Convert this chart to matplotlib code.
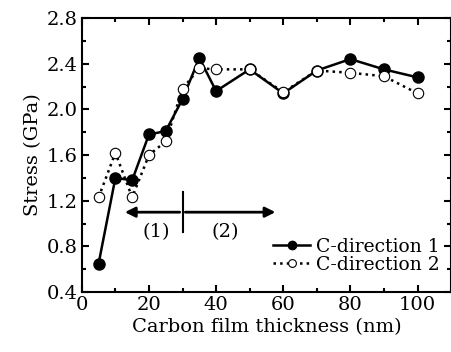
import matplotlib
matplotlib.use("Agg")
import matplotlib.pyplot as plt
from matplotlib.ticker import MultipleLocator

# thickness (nm)
thickness = [5, 10, 15, 20, 25, 30, 35, 40, 50, 60, 70, 80, 90, 100]
# stress (GPa)
stress_c1 = [0.65, 1.40, 1.38, 1.78, 1.81, 2.09, 2.45, 2.16, 2.35, 2.14, 2.34, 2.44, 2.35, 2.28]
stress_c2 = [1.23, 1.62, 1.23, 1.60, 1.72, 2.18, 2.36, 2.35, 2.35, 2.15, 2.34, 2.32, 2.29, 2.14]

plt.rcParams['font.family'] = ['DejaVu Serif']
plt.rcParams['mathtext.fontset'] = 'dejavuserif'

fig = plt.figure(figsize=(4.52, 3.52), dpi=100)
ax = fig.add_axes([0.181, 0.170, 0.817, 0.779])

ax.plot(thickness, stress_c1, '-', color='black', lw=1.8, marker='o', ms=8,
        mfc='black', mec='black', label='C-direction 1', zorder=3)
ax.plot(thickness, stress_c2, ':', color='black', lw=1.8, marker='o', ms=7.5,
        mfc='white', mec='black', mew=0.8, label='C-direction 2', zorder=4)

# region arrow
ax.annotate('', xy=(12, 1.10), xytext=(30, 1.10),
            arrowprops=dict(arrowstyle='-|>', color='black', lw=2, mutation_scale=15))
ax.annotate('', xy=(58.5, 1.10), xytext=(30, 1.10),
            arrowprops=dict(arrowstyle='-|>', color='black', lw=2, mutation_scale=15))
ax.plot([30, 30], [0.93, 1.28], color='black', lw=1.5)
ax.text(22.3, 0.93, '(1)', ha='center', va='center', fontsize=14)
ax.text(42.8, 0.93, '(2)', ha='center', va='center', fontsize=14)

ax.set_xlim(0, 110)
ax.set_ylim(0.4, 2.8)
ax.xaxis.set_major_locator(MultipleLocator(20))
ax.xaxis.set_minor_locator(MultipleLocator(10))
ax.yaxis.set_major_locator(MultipleLocator(0.4))
ax.yaxis.set_minor_locator(MultipleLocator(0.2))
ax.tick_params(which='both', direction='in', top=True, right=True, labelsize=14, width=1.5)
ax.tick_params(which='major', length=5, pad=3)
ax.tick_params(which='minor', length=3)
for s in ax.spines.values():
    s.set_linewidth(1.5)

ax.set_xlabel('Carbon film thickness (nm)', fontsize=14, labelpad=3)
ax.set_ylabel('Stress (GPa)', fontsize=14, labelpad=3)

ax.legend(loc='lower right', bbox_to_anchor=(1.0, 0.026), frameon=False, fontsize=13.5,
          handlelength=2.0, handletextpad=0.3, labelspacing=0.0, borderaxespad=0.2,
          markerscale=0.75)

fig.savefig('out.png', dpi=100)
